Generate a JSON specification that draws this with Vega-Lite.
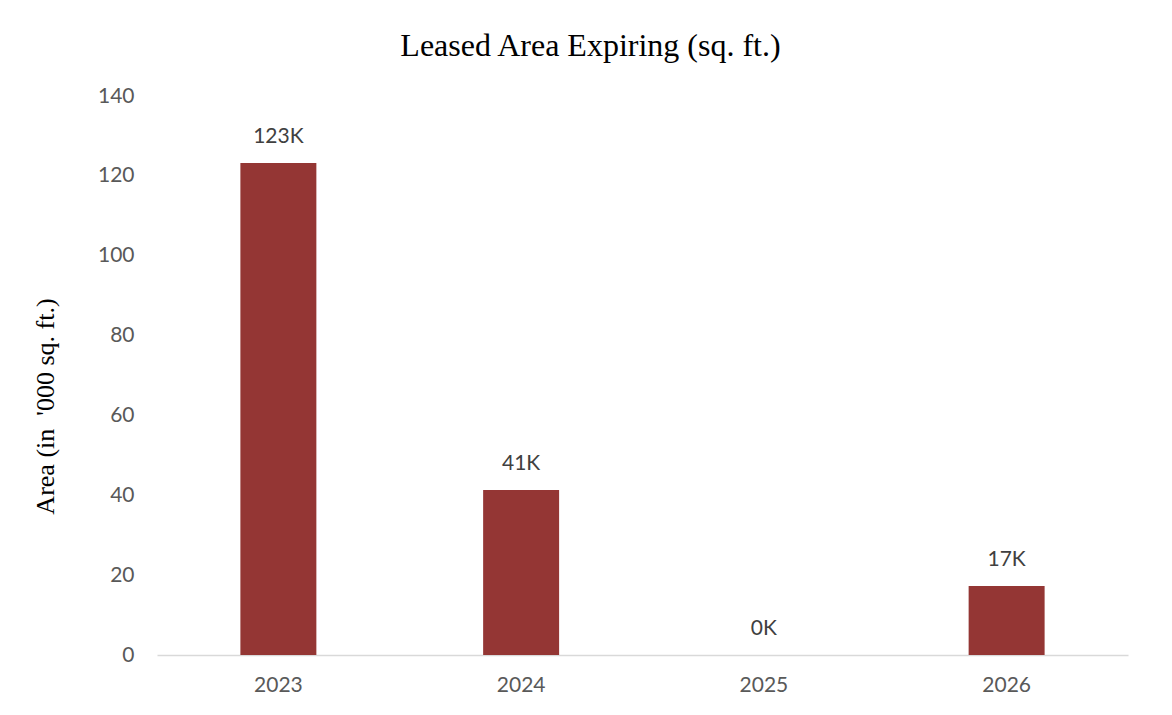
{
  "$schema": "https://vega.github.io/schema/vega-lite/v6.json",
  "autosize": "none",
  "width": 971,
  "height": 559,
  "padding": {"left": 157, "top": 96, "right": 44, "bottom": 60},
  "background": "white",
  "config": {"view": {"stroke": null}},
  "title": {
    "text": "Leased Area Expiring (sq. ft.)",
    "font": "Liberation Serif",
    "fontSize": 32,
    "fontWeight": "normal",
    "color": "#000000",
    "anchor": "middle",
    "dx": -52,
    "offset": 22
  },
  "data": {
    "values": [
      {"year": "2023", "area": 123.2, "label": "123K"},
      {"year": "2024", "area": 41.3, "label": "41K"},
      {"year": "2025", "area": 0, "label": "0K"},
      {"year": "2026", "area": 17.3, "label": "17K"}
    ]
  },
  "encoding": {
    "x": {
      "field": "year",
      "type": "nominal",
      "sort": null,
      "scale": {"paddingInner": 0.687, "paddingOuter": 0.3435},
      "axis": {
        "title": null,
        "labelAngle": 0,
        "labelFont": "Lato",
        "labelFontSize": 21,
        "labelColor": "#595959",
        "labelPadding": 19,
        "ticks": false,
        "domainColor": "#d9d9d9",
        "domainWidth": 1.5
      }
    },
    "y": {
      "field": "area",
      "type": "quantitative",
      "scale": {"domain": [0, 140], "nice": false},
      "axis": {
        "values": [0, 20, 40, 60, 80, 100, 120, 140],
        "title": "Area (in \u00a0'000 sq. ft.)",
        "titleFont": "Liberation Serif",
        "titleFontSize": 26,
        "titleFontWeight": "normal",
        "titleColor": "#000000",
        "titleAngle": -90,
        "titleX": -112,
        "titleY": 310,
        "titleAlign": "center",
        "titleBaseline": "middle",
        "labelFont": "Lato",
        "labelFontSize": 21,
        "labelColor": "#595959",
        "labelPadding": 23,
        "ticks": false,
        "domain": false,
        "grid": false
      }
    }
  },
  "layer": [
    {"mark": {"type": "bar", "color": "#943634"}},
    {
      "mark": {"type": "text", "dy": -16, "baseline": "bottom", "font": "Lato", "fontSize": 21, "color": "#404040"},
      "encoding": {"text": {"field": "label"}}
    }
  ]
}
